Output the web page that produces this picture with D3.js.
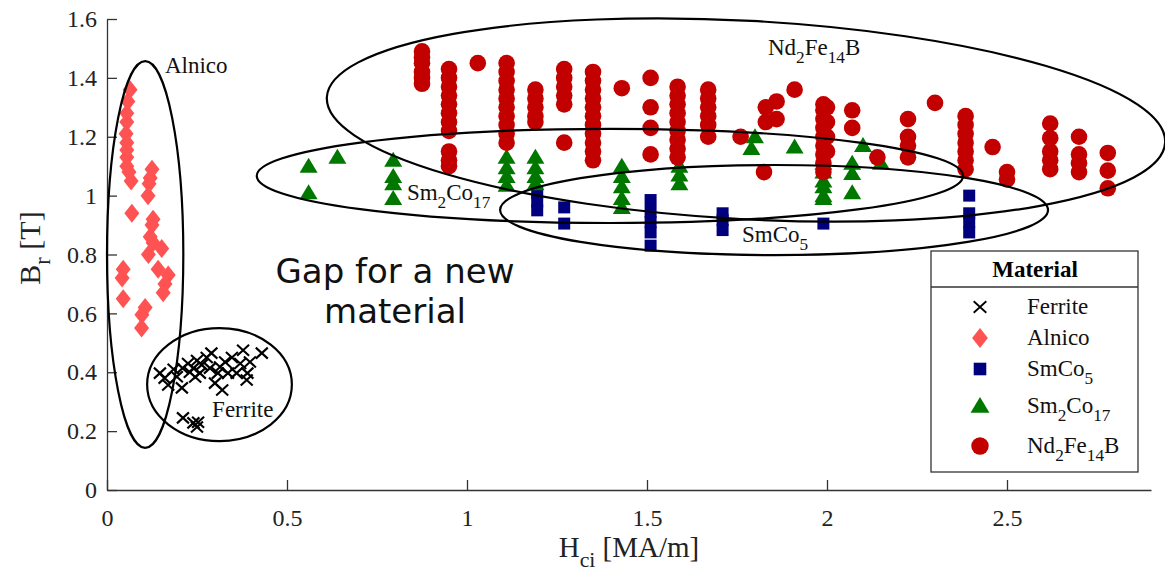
<!DOCTYPE html>
<html>
<head>
<meta charset="utf-8">
<script src="https://cdn.jsdelivr.net/npm/d3@7"></script>
<style>
  body { margin: 0; background: #fff; }
  svg text { font-family: "Liberation Serif", "Times New Roman", serif; }
</style>
</head>
<body>
<script>
const width = 1165;
const height = 577;
const marginTop = 19;
const marginRight = 14;
const marginBottom = 87;
const marginLeft = 107;

// tick values
const xTicks = [0, 0.5, 1, 1.5, 2, 2.5];
const yTicks = [0, 0.2, 0.4, 0.6, 0.8, 1, 1.2, 1.4, 1.6];

// Ferrite (Hci MA/m, Br T)
const ferriteH = [0.147, 0.16, 0.17, 0.185, 0.194, 0.208, 0.21, 0.225, 0.23, 0.24, 0.245, 0.25, 0.258, 0.263,
  0.277, 0.286, 0.29, 0.30, 0.308, 0.314, 0.32, 0.328, 0.336, 0.347, 0.36, 0.37, 0.378, 0.388, 0.39, 0.397, 0.43,
  0.211, 0.24, 0.253, 0.25];
const ferriteB = [0.397, 0.38, 0.357, 0.41, 0.385, 0.347, 0.414, 0.43, 0.40, 0.414, 0.384, 0.44, 0.397, 0.425,
  0.45, 0.414, 0.465, 0.363, 0.397, 0.418, 0.34, 0.435, 0.397, 0.45, 0.397, 0.43, 0.475, 0.374, 0.397, 0.435, 0.465,
  0.245, 0.228, 0.23, 0.214];

// Alnico
const alnicoH = [0.064, 0.058, 0.055, 0.055, 0.053, 0.055, 0.055, 0.055, 0.055, 0.061, 0.067,
  0.125, 0.12, 0.117, 0.114, 0.069, 0.128, 0.125, 0.12, 0.128, 0.152, 0.115,
  0.045, 0.042, 0.142, 0.17, 0.161, 0.156, 0.045, 0.106, 0.097, 0.096];
const alnicoB = [1.36, 1.32, 1.28, 1.25, 1.21, 1.18, 1.155, 1.13, 1.10, 1.08, 1.05,
  1.09, 1.06, 1.04, 1.00, 0.94, 0.92, 0.90, 0.86, 0.84, 0.82, 0.80,
  0.75, 0.72, 0.75, 0.73, 0.70, 0.67, 0.65, 0.62, 0.595, 0.55];

// SmCo5
const smco5H = [1.195, 1.195, 1.195, 1.27, 1.27, 1.51, 1.51, 1.51, 1.51, 1.51, 1.71, 1.71, 1.71, 1.99,
  2.395, 2.395, 2.395, 2.395];
const smco5B = [1.01, 0.98, 0.95, 0.96, 0.905, 0.985, 0.945, 0.91, 0.875, 0.83, 0.94, 0.917, 0.883, 0.905,
  1.00, 0.94, 0.91, 0.875];

// Sm2Co17
const sm2co17H = [0.56, 0.56, 0.64, 0.795, 0.795, 0.795, 0.795,
  1.11, 1.11, 1.11, 1.11, 1.19, 1.19, 1.19, 1.19,
  1.43, 1.43, 1.43, 1.43, 1.43, 1.59, 1.59, 1.59,
  1.80, 1.79, 1.91, 1.99, 1.99, 1.99, 1.99, 1.99, 1.99,
  2.07, 2.07, 2.07, 2.10, 2.15];
const sm2co17B = [1.10, 1.01, 1.13, 1.12, 1.065, 1.04, 0.99,
  1.13, 1.095, 1.065, 1.035, 1.13, 1.095, 1.065, 1.04,
  1.10, 1.065, 1.03, 0.99, 0.96, 1.10, 1.07, 1.04,
  1.20, 1.16, 1.165, 1.11, 1.08, 1.05, 1.03, 1.00, 0.99,
  1.11, 1.075, 1.01, 1.17, 1.11];

// Nd2Fe14B
const ndH = [0.875, 0.875, 0.875, 0.875, 0.875, 0.875,
  0.95, 0.95, 0.95, 0.95, 0.95, 0.95, 0.95, 0.95, 0.95, 0.95, 0.95,
  1.03,
  1.11, 1.11, 1.11, 1.11, 1.11, 1.11, 1.11, 1.11, 1.11, 1.11,
  1.19, 1.19, 1.19, 1.19, 1.19,
  1.27, 1.27, 1.27, 1.27, 1.27, 1.27,
  1.35, 1.35, 1.35, 1.35, 1.35, 1.35, 1.35, 1.35, 1.35, 1.35, 1.35,
  1.43,
  1.51, 1.51, 1.51, 1.51,
  1.585, 1.585, 1.585, 1.585, 1.585, 1.585, 1.585, 1.585, 1.585,
  1.67, 1.67, 1.67, 1.67, 1.67, 1.67,
  1.76, 1.83, 1.86, 1.86, 1.83, 1.91, 1.825,
  1.99, 1.99, 1.99, 1.99, 1.99, 1.99, 1.99, 1.99, 1.99, 2.0, 2.0, 2.0, 2.0,
  2.07, 2.07, 2.14,
  2.225, 2.225, 2.225, 2.225, 2.30,
  2.385, 2.385, 2.385, 2.385, 2.385, 2.385, 2.385,
  2.46, 2.50, 2.50,
  2.62, 2.62, 2.62, 2.62, 2.62,
  2.70, 2.70, 2.70, 2.70,
  2.78, 2.78, 2.78];
const ndB = [1.49, 1.47, 1.45, 1.42, 1.40, 1.38,
  1.43, 1.40, 1.37, 1.34, 1.31, 1.28, 1.25, 1.22, 1.15, 1.12, 1.10,
  1.45,
  1.45, 1.42, 1.39, 1.36, 1.33, 1.30, 1.27, 1.24, 1.21, 1.18,
  1.36, 1.33, 1.30, 1.27, 1.25,
  1.43, 1.40, 1.37, 1.34, 1.31, 1.18,
  1.42, 1.39, 1.36, 1.33, 1.30, 1.27, 1.24, 1.21, 1.18, 1.15, 1.12,
  1.365,
  1.40, 1.30, 1.23, 1.14,
  1.37, 1.34, 1.31, 1.28, 1.25, 1.22, 1.19, 1.16, 1.13,
  1.36, 1.33, 1.30, 1.27, 1.24, 1.20,
  1.20, 1.30, 1.32, 1.26, 1.25, 1.36, 1.08,
  1.31, 1.29, 1.26, 1.23, 1.20, 1.17, 1.14, 1.11, 1.08, 1.30, 1.25, 1.20, 1.15,
  1.29, 1.23, 1.13,
  1.26, 1.20, 1.17, 1.13, 1.315,
  1.27, 1.24, 1.21, 1.18, 1.15, 1.12, 1.09,
  1.165, 1.08, 1.055,
  1.245, 1.195, 1.15, 1.12, 1.09,
  1.20, 1.14, 1.11, 1.08,
  1.145, 1.085, 1.025];

// grouping ellipses: centre, semi-axes (data units), tilt in degrees
const ellipseCx = [0.106, 0.3125, 1.397, 1.853, 1.775];
const ellipseCy = [0.800, 0.358, 1.067, 0.951, 1.257];
const ellipseRx = [0.106, 0.201, 0.981, 0.761, 1.166];
const ellipseRy = [0.657, 0.192, 0.160, 0.153, 0.337];
const ellipseTilt = [0, 0, 0, 0, 3.1];

// group labels (parts: [text, subscript?]) and anchor in data units
const groupLabels = [
  [["Alnico"]],
  [["Ferrite"]],
  [["Sm"], ["2", 1], ["Co"], ["17", 1]],
  [["Sm"], ["Co"], ["5", 1]],
  [["Nd"], ["2", 1], ["Fe"], ["14", 1], ["B"]]
];
const groupLabelH = [0.161, 0.292, 0.833, 1.764, 1.836];
const groupLabelB = [1.416, 0.248, 0.985, 0.842, 1.478];

const x = d3.scaleLinear().domain([0, 2.9]).range([marginLeft, width - marginRight]);
const y = d3.scaleLinear().domain([0, 1.6]).range([height - marginBottom, marginTop]);

const serif = "'Liberation Serif', 'Times New Roman', serif";

const svg = d3.select("body").append("svg")
  .attr("width", width)
  .attr("height", height)
  .attr("viewBox", [0, 0, width, height]);

function shape(type, k) {
  k = k || 1;
  if (type == "cross") return `M${-6*k},${-5.5*k}L${6*k},${5.5*k}M${-6*k},${5.5*k}L${6*k},${-5.5*k}`;
  if (type == "diamond") return `M0,${-9.5*k}L${7.5*k},0L0,${9.5*k}L${-7.5*k},0Z`;
  if (type == "square") return `M${-6*k},${-6*k}h${12*k}v${12*k}h${-12*k}Z`;
  if (type == "triangle") return `M0,${-8.5*k}L${9*k},${6.5*k}L${-9*k},${6.5*k}Z`;
  return d3.symbol(d3.symbolCircle, Math.PI * 8.3 * 8.3 * k * k)();
}

function richText(sel, parts, size) {
  let sub = false;
  parts.forEach(p => {
    const t = sel.append("tspan").text(p[0]);
    if (p[1] && !sub) { t.attr("dy", size * 0.33).attr("font-size", size * 0.75); sub = true; }
    else if (p[1]) { t.attr("font-size", size * 0.75); }
    else if (sub) { t.attr("dy", -size * 0.33); sub = false; }
  });
}

const series = [
  { label: [["Ferrite"]], H: ferriteH, B: ferriteB, type: "cross", color: "#000" },
  { label: [["Alnico"]], H: alnicoH, B: alnicoB, type: "diamond", color: "#ff5353" },
  { label: [["SmCo"], ["5", 1]], H: smco5H, B: smco5B, type: "square", color: "#00007e" },
  { label: [["Sm"], ["2", 1], ["Co"], ["17", 1]], H: sm2co17H, B: sm2co17B, type: "triangle", color: "#007800" },
  { label: [["Nd"], ["2", 1], ["Fe"], ["14", 1], ["B"]], H: ndH, B: ndB, type: "circle", color: "#c30000" }
];

// axes
const gx = svg.append("g")
  .attr("transform", `translate(0,${y(0)})`)
  .call(d3.axisBottom(x).tickValues(xTicks).tickFormat(d3.format("~g"))
    .tickSize(-10).tickSizeOuter(0).tickPadding(19));
const gy = svg.append("g")
  .attr("transform", `translate(${x(0)},0)`)
  .call(d3.axisLeft(y).tickValues(yTicks).tickFormat(d3.format("~g"))
    .tickSize(-10).tickSizeOuter(0).tickPadding(10));
[gx, gy].forEach(g => {
  g.attr("font-family", serif).attr("font-size", 24);
  g.select(".domain").attr("stroke", "#333").attr("stroke-width", 1.3);
  g.selectAll(".tick line").attr("stroke", "#333").attr("stroke-width", 1.3);
  g.selectAll(".tick text").attr("fill", "#222")
    .style("font-family", serif).style("font-size", "24px");
});

// markers
series.forEach(s => {
  const g = svg.append("g");
  const pts = s.H.map((h, i) => [h, s.B[i]]);
  g.selectAll("path").data(pts).join("path")
    .attr("transform", d => `translate(${x(d[0])},${y(d[1])})`)
    .attr("d", shape(s.type))
    .attr("fill", s.type == "cross" ? "none" : s.color)
    .attr("stroke", s.type == "cross" ? s.color : "none")
    .attr("stroke-width", 2.1);
});

// ellipses
const ellipses = ellipseCx.map((cx, i) => ({ cx, cy: ellipseCy[i], rx: ellipseRx[i], ry: ellipseRy[i], tilt: ellipseTilt[i] }));
svg.append("g").selectAll("ellipse").data(ellipses).join("ellipse")
  .attr("transform", d => `translate(${x(d.cx)},${y(d.cy)}) rotate(${d.tilt})`)
  .attr("rx", d => x(d.rx) - x(0))
  .attr("ry", d => y(0) - y(d.ry))
  .attr("fill", "none")
  .attr("stroke", "#000")
  .attr("stroke-width", 2.2);

// group labels
groupLabels.forEach((parts, i) => {
  const t = svg.append("text")
    .attr("x", x(groupLabelH[i]))
    .attr("y", y(groupLabelB[i]))
    .attr("fill", "#111")
    .style("font-size", "23px");
  richText(t, parts, 23);
});

// gap annotation
const gap = svg.append("text")
  .attr("text-anchor", "middle")
  .style("font-family", "'DejaVu Sans', Verdana, sans-serif")
  .style("font-size", "34px")
  .attr("fill", "#111");
gap.append("tspan").attr("x", 395).attr("y", 283).text("Gap for a new");
gap.append("tspan").attr("x", 395).attr("y", 323).text("material");

// axis titles
const xt = svg.append("text")
  .attr("x", (x.range()[0] + x.range()[1]) / 2)
  .attr("y", 557)
  .attr("text-anchor", "middle")
  .attr("fill", "#222")
  .style("font-size", "29px");
richText(xt, [["H"], ["ci", 1], ["\u00a0[MA/m]"]], 29);

const yt = svg.append("text")
  .attr("transform", "translate(40,248) rotate(-90)")
  .attr("text-anchor", "middle")
  .attr("fill", "#222")
  .style("font-size", "30px");
richText(yt, [["B"], ["r", 1], ["\u00a0[T]"]], 30);

// legend
const legend = svg.append("g");
legend.append("rect")
  .attr("x", 931).attr("y", 251).attr("width", 207).attr("height", 221)
  .attr("fill", "#fff").attr("stroke", "#333").attr("stroke-width", 1.3);
legend.append("line")
  .attr("x1", 931).attr("x2", 1138).attr("y1", 287).attr("y2", 287)
  .attr("stroke", "#333").attr("stroke-width", 1.3);
legend.append("text")
  .attr("x", 1035).attr("y", 277)
  .attr("text-anchor", "middle")
  .attr("font-weight", "bold")
  .style("font-size", "23px")
  .text("Material");
const rowY = [314, 345, 376, 413, 453];
series.forEach((s, i) => {
  legend.append("path")
    .attr("transform", `translate(980,${rowY[i] - 7})`)
    .attr("d", shape(s.type, 1.05))
    .attr("fill", s.type == "cross" ? "none" : s.color)
    .attr("stroke", s.type == "cross" ? s.color : "none")
    .attr("stroke-width", 1.8);
  const t = legend.append("text")
    .attr("x", 1027).attr("y", rowY[i])
    .attr("fill", "#111")
    .style("font-size", "23px");
  richText(t, s.label, 23);
});
</script>
</body>
</html>
